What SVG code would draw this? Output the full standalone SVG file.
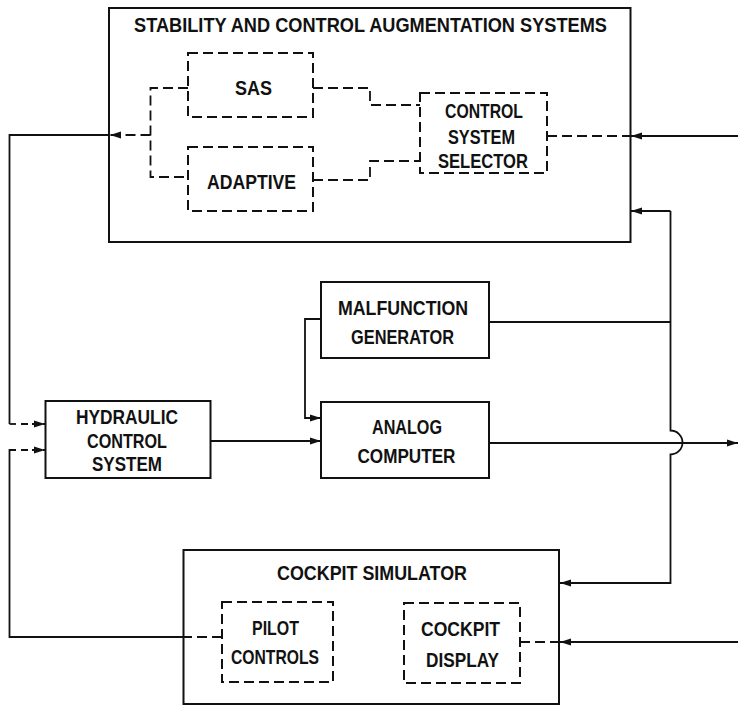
<svg xmlns="http://www.w3.org/2000/svg" width="738" height="711" viewBox="0 0 738 711">
<defs>
<marker id="ah" markerUnits="userSpaceOnUse" markerWidth="12" markerHeight="8" refX="11" refY="4" orient="auto">
<path d="M0,0.5 L11,4 L0,7.5 Z" fill="#111"/>
</marker>
<style>
.box{fill:none;stroke:#111;stroke-width:2}
.dbox{fill:none;stroke:#111;stroke-width:2;stroke-dasharray:10 5}
.ln{fill:none;stroke:#111;stroke-width:1.8}
.dl{fill:none;stroke:#111;stroke-width:1.8;stroke-dasharray:10 5}
.t{font-family:"Liberation Sans","DejaVu Sans",sans-serif;font-size:20px;font-weight:bold;fill:#111;text-anchor:middle}
</style>
</defs>
<rect width="738" height="711" fill="#fff"/>
<g id="scas">
<rect class="box" x="109" y="8" width="521.5" height="234"/>
<text class="t" x="370.5" y="32" style="font-size:19.5px" textLength="473" lengthAdjust="spacingAndGlyphs">STABILITY AND CONTROL AUGMENTATION SYSTEMS</text>
</g>
<g id="sas">
<rect class="dbox" x="188" y="53" width="125" height="64"/>
<text class="t" x="253.5" y="94.5" textLength="37" lengthAdjust="spacingAndGlyphs">SAS</text>
</g>
<g id="adaptive">
<rect class="dbox" x="188" y="147" width="125" height="64"/>
<text class="t" x="251.5" y="188.5" textLength="89" lengthAdjust="spacingAndGlyphs">ADAPTIVE</text>
</g>
<g id="selector">
<rect class="dbox" x="420" y="93" width="127" height="80"/>
<text class="t" x="484" y="117.5" textLength="78" lengthAdjust="spacingAndGlyphs">CONTROL</text>
<text class="t" x="481.5" y="143.5" textLength="67" lengthAdjust="spacingAndGlyphs">SYSTEM</text>
<text class="t" x="483" y="168" textLength="90" lengthAdjust="spacingAndGlyphs">SELECTOR</text>
</g>
<g id="malfunction">
<rect class="box" x="321" y="282" width="168" height="76"/>
<text class="t" x="403" y="314.5" textLength="130" lengthAdjust="spacingAndGlyphs">MALFUNCTION</text>
<text class="t" x="402.5" y="344" textLength="103" lengthAdjust="spacingAndGlyphs">GENERATOR</text>
</g>
<g id="analog">
<rect class="box" x="321" y="402" width="168" height="76"/>
<text class="t" x="407" y="433.5" textLength="70" lengthAdjust="spacingAndGlyphs">ANALOG</text>
<text class="t" x="406.5" y="462.5" textLength="98" lengthAdjust="spacingAndGlyphs">COMPUTER</text>
</g>
<g id="hydraulic">
<rect class="box" x="45.5" y="401" width="165" height="77"/>
<text class="t" x="127" y="424" textLength="102" lengthAdjust="spacingAndGlyphs">HYDRAULIC</text>
<text class="t" x="127" y="447.5" textLength="80" lengthAdjust="spacingAndGlyphs">CONTROL</text>
<text class="t" x="127" y="470.5" textLength="70" lengthAdjust="spacingAndGlyphs">SYSTEM</text>
</g>
<g id="cockpit">
<rect class="box" x="183.5" y="550" width="375.5" height="154"/>
<text class="t" x="372" y="580" style="font-size:19.5px" textLength="190" lengthAdjust="spacingAndGlyphs">COCKPIT SIMULATOR</text>
</g>
<g id="pilot">
<rect class="dbox" x="222" y="602" width="111" height="80"/>
<text class="t" x="275.5" y="635" textLength="47" lengthAdjust="spacingAndGlyphs">PILOT</text>
<text class="t" x="275" y="663.5" textLength="88" lengthAdjust="spacingAndGlyphs">CONTROLS</text>
</g>
<g id="display">
<rect class="dbox" x="404" y="603" width="116" height="80"/>
<text class="t" x="460.5" y="635.5" textLength="79" lengthAdjust="spacingAndGlyphs">COCKPIT</text>
<text class="t" x="462.5" y="666.5" textLength="73" lengthAdjust="spacingAndGlyphs">DISPLAY</text>
</g>
<g id="connectors">
<path class="dl" d="M188,88 H150.5 V177 H188"/>
<path class="dl" d="M150.5,135 H110" marker-end="url(#ah)"/>
<path class="dl" d="M313,88 H370 V105 H420"/>
<path class="dl" d="M313,180 H370 V161 H420"/>
<path class="dl" d="M547,136 H630"/>
<path class="ln" d="M738,136 H631" marker-end="url(#ah)"/>
<path class="ln" d="M110,135 H9.5 V424"/>
<path class="ln" d="M9.5,424 H16"/>
<path class="dl" d="M21,424 H45" marker-end="url(#ah)" style="stroke-dasharray:7 4"/>
<path class="ln" d="M183.5,637 H9.5 V450 H16"/>
<path class="dl" d="M21,450 H45" marker-end="url(#ah)" style="stroke-dasharray:7 4"/>
<path class="dl" d="M222,637 H183.5"/>
<path class="ln" d="M670.5,211 H631" marker-end="url(#ah)"/>
<path class="ln" d="M670.5,211 V430.5 A12,12 0 0 1 670.5,454.5 V583 H560" marker-end="url(#ah)"/>
<path class="ln" d="M489,322 H670.5"/>
<path class="ln" d="M321,319 H305 V418 H321" marker-end="url(#ah)"/>
<path class="ln" d="M210.5,441 H321" marker-end="url(#ah)"/>
<path class="ln" d="M489,443 H738" marker-end="url(#ah)"/>
<path class="dl" d="M520,642 H559"/>
<path class="ln" d="M738,642 H560" marker-end="url(#ah)"/>
</g>
</svg>
